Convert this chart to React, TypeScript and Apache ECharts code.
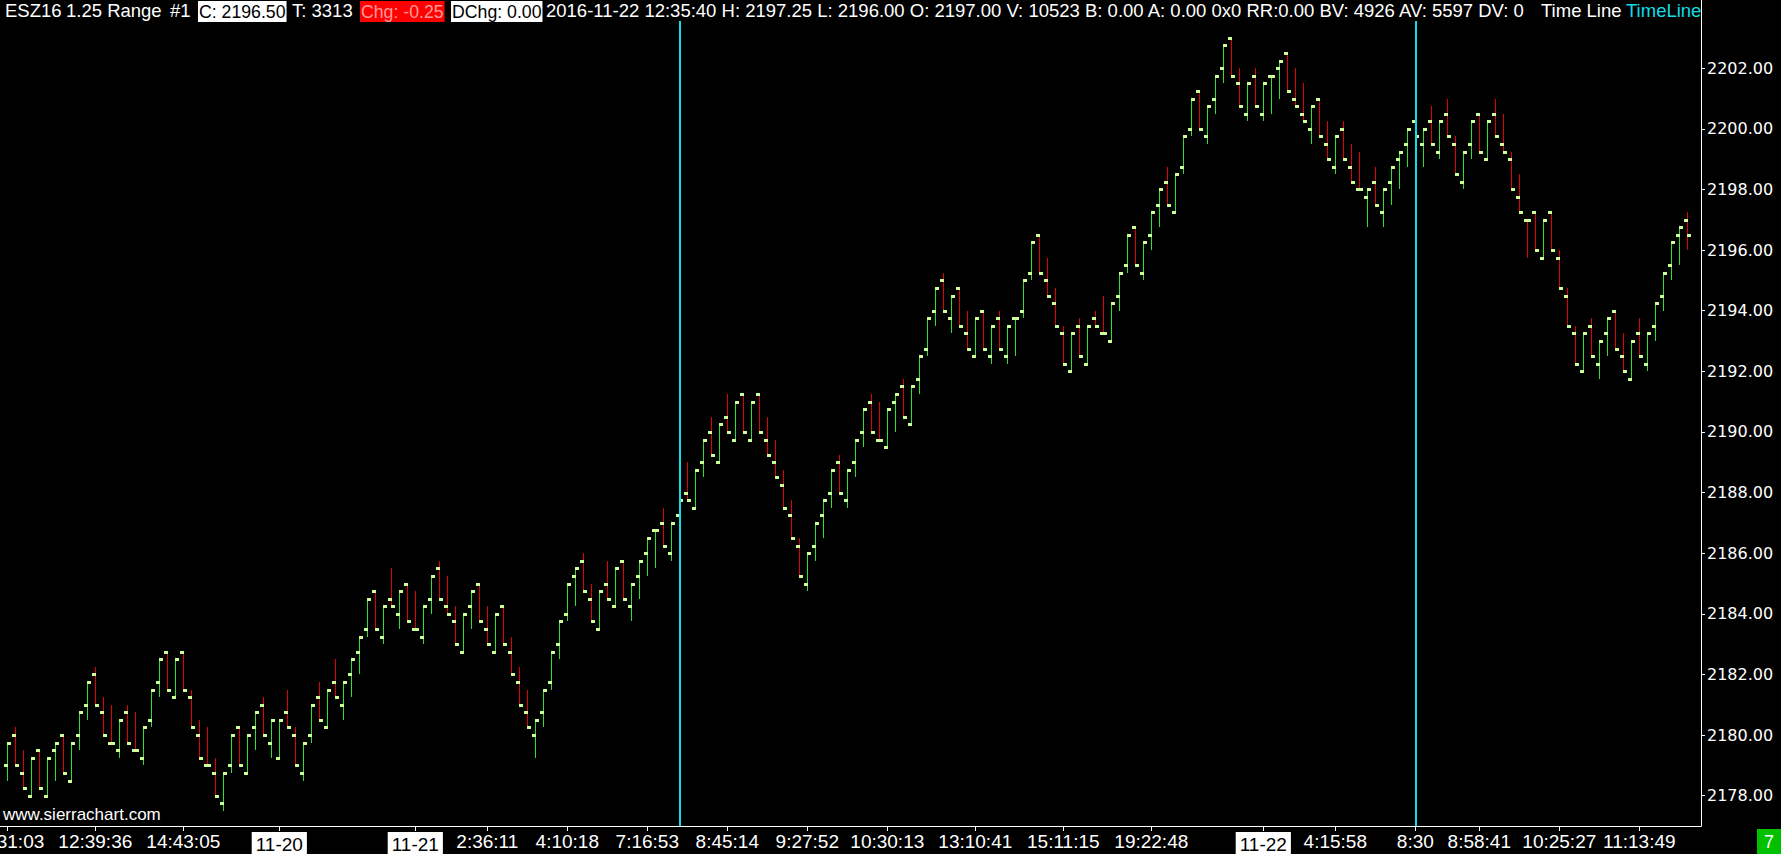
import React, { useEffect, useRef } from 'react';
import * as echarts from 'echarts';

// ---- Data: 1.25 range bars, ESZ16 ----
const opens = [
  2179.0, 2180.0, 2178.75, 2178.0, 2179.5, 2178.0, 2179.5, 2180.0, 2178.5, 2180.0,
  2181.0, 2182.0, 2180.75, 2179.75, 2179.5, 2180.75, 2179.5, 2179.25, 2180.5, 2181.75,
  2182.75, 2181.25, 2182.75, 2181.25, 2180.0, 2179.0, 2178.75, 2177.75, 2179.0, 2180.25,
  2178.75, 2180.25, 2181.0, 2179.75, 2179.25, 2180.75, 2180.0, 2178.75, 2180.0, 2181.25,
  2180.25, 2181.75, 2181.0, 2182.0, 2182.75, 2183.5, 2184.75, 2183.25, 2184.5, 2184.0,
  2185.0, 2183.5, 2183.25, 2184.5, 2185.5, 2184.25, 2183.75, 2182.75, 2184.25, 2185.0,
  2183.5, 2182.75, 2184.25, 2182.75, 2181.75, 2180.75, 2180.0, 2180.75, 2181.75, 2183.0,
  2184.0, 2185.25, 2185.75, 2184.5, 2183.5, 2185.0, 2184.25, 2185.75, 2184.25, 2185.25,
  2186.0, 2186.75, 2187.0, 2186.0, 2187.25, 2188.0, 2187.5, 2189.0, 2190.0, 2189.0,
  2190.5, 2189.75, 2191.25, 2189.75, 2191.25, 2189.75, 2189.0, 2188.25, 2187.25, 2186.25,
  2185.0, 2186.25, 2187.25, 2188.0, 2189.0, 2187.75, 2189.0, 2190.0, 2191.0, 2189.75,
  2189.5, 2191.0, 2191.5, 2190.25, 2191.75, 2192.75, 2194.0, 2195.0, 2193.75, 2194.75,
  2193.25, 2192.5, 2194.0, 2192.5, 2193.75, 2192.5, 2193.75, 2194.0, 2195.25, 2196.5,
  2195.0, 2194.25, 2193.25, 2192.0, 2193.5, 2192.25, 2193.75, 2193.25, 2193.0, 2194.5,
  2195.5, 2196.75, 2195.25, 2196.5, 2197.5, 2198.25, 2197.25, 2198.75, 2200.0, 2201.25,
  2199.75, 2201.0, 2202.0, 2203.0, 2201.5, 2200.5, 2201.75, 2200.5, 2201.75, 2202.0,
  2202.5, 2201.0, 2200.5, 2200.0, 2201.0, 2199.5, 2198.75, 2200.0, 2198.75, 2198.0,
  2197.75, 2198.25, 2197.25, 2198.25, 2199.0, 2199.5, 2200.25, 2199.5, 2200.25, 2199.25,
  2200.5, 2199.5, 2198.25, 2199.5, 2200.5, 2199.0, 2200.5, 2199.5, 2199.0, 2197.75,
  2197.0, 2197.25, 2195.75, 2197.25, 2195.75, 2194.5, 2193.25, 2192.0, 2193.5, 2192.25,
  2193.25, 2194.0, 2192.5, 2191.75, 2193.25, 2192.25, 2193.5, 2194.5, 2195.5, 2196.5,
  2197.0,
];
const highs = [
  2179.75, 2180.25, 2179.5, 2179.25, 2179.5, 2179.25, 2179.75, 2180.0, 2179.75, 2180.75,
  2181.75, 2182.25, 2181.25, 2181.0, 2180.5, 2181.0, 2180.75, 2180.25, 2181.5, 2182.5,
  2182.75, 2182.5, 2182.75, 2181.5, 2180.5, 2180.25, 2179.25, 2178.75, 2180.0, 2180.25,
  2180.0, 2180.75, 2181.25, 2180.5, 2180.5, 2181.5, 2180.25, 2179.75, 2181.0, 2181.75,
  2181.5, 2182.5, 2181.75, 2182.5, 2183.25, 2184.5, 2184.75, 2184.25, 2185.5, 2184.75,
  2185.0, 2184.75, 2184.25, 2185.25, 2185.75, 2185.25, 2184.25, 2184.0, 2184.75, 2185.0,
  2184.25, 2184.0, 2184.25, 2183.25, 2182.25, 2181.5, 2180.5, 2181.5, 2182.75, 2183.75,
  2185.0, 2185.5, 2186.0, 2185.0, 2184.75, 2185.75, 2185.5, 2185.75, 2185.0, 2185.75,
  2186.5, 2186.75, 2187.5, 2187.0, 2187.75, 2189.0, 2188.75, 2189.75, 2190.5, 2190.25,
  2191.25, 2191.0, 2191.25, 2191.0, 2191.25, 2190.5, 2189.75, 2188.75, 2187.75, 2186.5,
  2186.0, 2187.0, 2187.75, 2188.75, 2189.25, 2188.75, 2189.75, 2190.75, 2191.25, 2191.0,
  2190.75, 2191.25, 2191.75, 2191.5, 2192.5, 2193.75, 2194.75, 2195.25, 2194.5, 2194.75,
  2194.0, 2193.75, 2194.0, 2193.5, 2194.0, 2193.5, 2193.75, 2195.0, 2196.25, 2196.5,
  2195.75, 2194.75, 2193.5, 2193.25, 2193.75, 2193.5, 2194.0, 2194.5, 2194.25, 2195.25,
  2196.5, 2196.75, 2196.25, 2197.25, 2198.0, 2198.75, 2198.5, 2199.75, 2201.0, 2201.25,
  2200.75, 2201.75, 2202.75, 2203.0, 2202.0, 2201.5, 2202.0, 2201.5, 2201.75, 2202.25,
  2202.5, 2202.0, 2201.5, 2200.75, 2201.0, 2200.25, 2199.75, 2200.25, 2199.5, 2199.25,
  2198.0, 2198.75, 2198.0, 2198.75, 2199.25, 2200.0, 2200.5, 2200.0, 2200.75, 2200.25,
  2201.0, 2199.75, 2199.25, 2200.25, 2200.5, 2200.25, 2201.0, 2200.5, 2199.25, 2198.5,
  2197.0, 2197.25, 2197.0, 2197.25, 2196.0, 2194.75, 2193.5, 2193.25, 2193.75, 2193.0,
  2193.75, 2194.0, 2193.25, 2193.0, 2193.75, 2193.25, 2194.25, 2195.25, 2196.25, 2196.75,
  2197.25,
];
const lows = [
  2178.5, 2179.0, 2178.25, 2178.0, 2178.25, 2178.0, 2178.5, 2178.75, 2178.5, 2179.5,
  2180.5, 2181.0, 2180.0, 2179.75, 2179.25, 2179.75, 2179.5, 2179.0, 2180.25, 2181.25,
  2181.5, 2181.25, 2181.5, 2180.25, 2179.25, 2179.0, 2178.0, 2177.5, 2178.75, 2179.0,
  2178.75, 2179.5, 2180.0, 2179.25, 2179.25, 2180.25, 2179.0, 2178.5, 2179.75, 2180.5,
  2180.25, 2181.25, 2180.5, 2181.25, 2182.0, 2183.25, 2183.5, 2183.0, 2184.25, 2183.5,
  2183.75, 2183.5, 2183.0, 2184.0, 2184.5, 2184.0, 2183.0, 2182.75, 2183.5, 2183.75,
  2183.0, 2182.75, 2183.0, 2182.0, 2181.0, 2180.25, 2179.25, 2180.25, 2181.5, 2182.5,
  2183.75, 2184.25, 2184.75, 2183.75, 2183.5, 2184.5, 2184.25, 2184.5, 2183.75, 2184.5,
  2185.25, 2185.5, 2186.25, 2185.75, 2186.5, 2187.75, 2187.5, 2188.5, 2189.25, 2189.0,
  2190.0, 2189.75, 2190.0, 2189.75, 2190.0, 2189.25, 2188.5, 2187.5, 2186.5, 2185.25,
  2184.75, 2185.75, 2186.5, 2187.5, 2188.0, 2187.5, 2188.5, 2189.5, 2190.0, 2189.75,
  2189.5, 2190.0, 2190.5, 2190.25, 2191.25, 2192.5, 2193.5, 2194.0, 2193.25, 2193.5,
  2192.75, 2192.5, 2192.75, 2192.25, 2192.75, 2192.25, 2192.5, 2193.75, 2195.0, 2195.25,
  2194.5, 2193.5, 2192.25, 2192.0, 2192.5, 2192.25, 2193.5, 2193.25, 2193.0, 2194.0,
  2195.25, 2195.5, 2195.0, 2196.0, 2196.75, 2197.5, 2197.25, 2198.5, 2199.75, 2200.0,
  2199.5, 2200.5, 2201.5, 2201.75, 2200.75, 2200.25, 2200.75, 2200.25, 2200.5, 2201.0,
  2201.25, 2200.75, 2200.25, 2199.5, 2199.75, 2199.0, 2198.5, 2199.0, 2198.25, 2198.0,
  2196.75, 2197.5, 2196.75, 2197.5, 2198.0, 2198.75, 2199.25, 2198.75, 2199.5, 2199.0,
  2199.75, 2198.5, 2198.0, 2199.0, 2199.25, 2199.0, 2199.75, 2199.25, 2198.0, 2197.25,
  2195.75, 2196.0, 2195.75, 2196.0, 2194.75, 2193.5, 2192.25, 2192.0, 2192.5, 2191.75,
  2192.5, 2192.75, 2192.0, 2191.75, 2192.5, 2192.0, 2193.0, 2194.0, 2195.0, 2195.5,
  2196.0,
];
const closes = [
  2179.75, 2179.0, 2178.25, 2179.25, 2178.25, 2179.25, 2179.75, 2178.75, 2179.75, 2180.75,
  2181.75, 2181.0, 2180.0, 2179.75, 2180.5, 2179.75, 2179.5, 2180.25, 2181.5, 2182.5,
  2181.5, 2182.5, 2181.5, 2180.25, 2179.25, 2179.0, 2178.0, 2178.75, 2180.0, 2179.0,
  2180.0, 2180.75, 2180.0, 2180.5, 2180.5, 2180.25, 2179.0, 2179.75, 2181.0, 2180.5,
  2181.5, 2181.25, 2181.75, 2182.5, 2183.25, 2184.5, 2183.5, 2184.25, 2184.25, 2184.75,
  2183.75, 2183.5, 2184.25, 2185.25, 2184.5, 2184.0, 2183.0, 2184.0, 2184.75, 2183.75,
  2183.0, 2184.0, 2183.0, 2182.0, 2181.0, 2180.25, 2180.5, 2181.5, 2182.75, 2183.75,
  2185.0, 2185.5, 2184.75, 2183.75, 2184.75, 2184.5, 2185.5, 2184.5, 2185.0, 2185.75,
  2186.5, 2186.75, 2186.25, 2187.0, 2187.75, 2187.75, 2188.75, 2189.75, 2189.25, 2190.25,
  2190.0, 2191.0, 2190.0, 2191.0, 2190.0, 2189.25, 2188.5, 2187.5, 2186.5, 2185.25,
  2186.0, 2187.0, 2187.75, 2188.75, 2188.0, 2188.75, 2189.75, 2190.75, 2190.0, 2189.75,
  2190.75, 2191.25, 2190.5, 2191.5, 2192.5, 2193.75, 2194.75, 2194.0, 2194.5, 2193.5,
  2192.75, 2193.75, 2192.75, 2193.5, 2192.75, 2193.5, 2193.75, 2195.0, 2196.25, 2195.25,
  2194.5, 2193.5, 2192.25, 2193.25, 2192.5, 2193.5, 2193.5, 2193.25, 2194.25, 2195.25,
  2196.5, 2195.5, 2196.25, 2197.25, 2198.0, 2197.5, 2198.5, 2199.75, 2201.0, 2200.0,
  2200.75, 2201.75, 2202.75, 2201.75, 2200.75, 2201.5, 2200.75, 2201.5, 2201.75, 2202.25,
  2201.25, 2200.75, 2200.25, 2200.75, 2199.75, 2199.0, 2199.75, 2199.0, 2198.25, 2198.0,
  2198.0, 2197.5, 2198.0, 2198.75, 2199.25, 2200.0, 2199.75, 2200.0, 2199.5, 2200.25,
  2199.75, 2198.5, 2199.25, 2200.25, 2199.25, 2200.25, 2199.75, 2199.25, 2198.0, 2197.25,
  2197.0, 2196.0, 2197.0, 2196.0, 2194.75, 2193.5, 2192.25, 2193.25, 2192.5, 2193.0,
  2193.75, 2192.75, 2192.0, 2193.0, 2192.5, 2193.25, 2194.25, 2195.25, 2196.25, 2196.75,
  2196.5,
];

const timeLineBars = [84, 176];
const xTickBars = [0, 11, 22, 34, 51, 60, 70, 80, 90, 100, 110, 121, 132, 143, 157, 166, 176, 184, 194, 204];
const xTickLabels = [
  '10:31:03', '12:39:36', '14:43:05', '11-20', '11-21', '2:36:11', '4:10:18', '7:16:53', '8:45:14', '9:27:52',
  '10:30:13', '13:10:41', '15:11:15', '19:22:48', '11-22', '4:15:58', '8:30', '8:58:41', '10:25:27', '11:13:49',
];
const dateLabels = ['11-20', '11-21', '11-22'];
const yTicks = [2178, 2180, 2182, 2184, 2186, 2188, 2190, 2192, 2194, 2196, 2198, 2200, 2202];
const lastPrice = 2196.5;

const headerItems = [
  { text: 'ESZ16', x: 5, kind: 'plain' },
  { text: '1.25 Range', x: 66, kind: 'plain' },
  { text: '#1', x: 170, kind: 'plain' },
  { text: 'C: 2196.50', x: 198, kind: 'box' },
  { text: 'T: 3313', x: 292, kind: 'plain' },
  { text: 'Chg: -0.25', x: 360, kind: 'red' },
  { text: 'DChg: 0.00', x: 451, kind: 'box' },
  { text: '2016-11-22 12:35:40 H: 2197.25 L: 2196.00 O: 2197.00 V: 10523 B: 0.00 A: 0.00 0x0 RR:0.00 BV: 4926 AV: 5597 DV: 0', x: 546, kind: 'plain' },
  { text: 'Time Line', x: 1541, kind: 'plain' },
  { text: 'TimeLine:', x: 1626, kind: 'cyan' },
];

// ---- Style ----
const W = 1781;
const H = 854;
const GRID_W = 1701;
const GRID_H = 826;
const BAR_PX = 8;
const FIRST_BAR_PX = 7.3;
const X_MIN = -FIRST_BAR_PX / BAR_PX;
const X_MAX = X_MIN + GRID_W / BAR_PX;
const Y_MIN = 2177;
const Y_MAX = 2204.25;
const UP = '#2ee02e';
const DOWN = '#e00000';
const TICK = '#ccff99';
const CYAN = '#11dde6';
const UI_FONT = '"Liberation Sans", Arial, sans-serif';
const AXIS_FONT = '"DejaVu Sans", Verdana, sans-serif';

export default function App() {
  const ref = useRef<HTMLDivElement>(null);

  useEffect(() => {
    if (!ref.current) return;
    const chart = echarts.init(ref.current, null, { renderer: 'svg' });

    const rows = opens.map((o, i) => {
      const c = closes[i];
      let dir = c > o ? 1 : c < o ? -1 : 0;
      if (dir === 0) dir = i > 0 && c < closes[i - 1] ? -1 : 1;
      return [i, o, highs[i], lows[i], c, dir];
    });

    const headerGraphics: any[] = headerItems.map((h) => {
      const style: any = {
        text: h.text,
        font: `18.5px ${UI_FONT}`,
        fill: '#ffffff',
        verticalAlign: 'top',
        align: 'left',
      };
      if (h.kind === 'box') {
        style.font = `17.7px ${UI_FONT}`;
        style.fill = '#000000';
        style.backgroundColor = '#ffffff';
        style.padding = [2, 1, 1, 1];
      } else if (h.kind === 'red') {
        style.font = `17.7px ${UI_FONT}`;
        style.fill = '#ff9a9a';
        style.backgroundColor = '#ff0000';
        style.padding = [2, 1, 1, 1];
      } else if (h.kind === 'cyan') {
        style.fill = CYAN;
      }
      return { type: 'text', x: h.x, y: 1, z: 110, style, silent: true };
    });

    const option: any = {
      animation: false,
      backgroundColor: '#000000',
      grid: { left: 0, top: 0, width: GRID_W, height: GRID_H, containLabel: false, outerBoundsMode: 'none' },
      xAxis: {
        type: 'value',
        min: X_MIN,
        max: X_MAX,
        position: 'bottom',
        axisLine: { show: true, onZero: false, lineStyle: { color: '#ffffff', width: 1 } },
        axisTick: { show: true, customValues: xTickBars, length: 5, inside: false, lineStyle: { color: '#ffffff' } },
        axisLabel: {
          show: true,
          customValues: xTickBars,
          color: '#ffffff',
          fontFamily: UI_FONT,
          fontSize: 19,
          margin: 6,
          hideOverlap: false,
          formatter: (v: number) => {
            const idx = xTickBars.indexOf(Math.round(v));
            const t = idx >= 0 ? xTickLabels[idx] : '';
            return dateLabels.includes(t) ? `{d|${t}}` : t;
          },
          rich: {
            d: {
              backgroundColor: '#ffffff',
              color: '#000000',
              fontFamily: UI_FONT,
              fontSize: 19,
              padding: [3, 4, 3, 4],
            },
          },
        },
        splitLine: { show: false },
      },
      yAxis: {
        type: 'value',
        position: 'right',
        min: Y_MIN,
        max: Y_MAX,
        axisLine: { show: true, onZero: false, lineStyle: { color: '#ffffff', width: 1 } },
        axisTick: { show: true, customValues: yTicks, length: 4, inside: false, lineStyle: { color: '#ffffff' } },
        axisLabel: {
          show: true,
          customValues: yTicks,
          color: '#ffffff',
          fontFamily: AXIS_FONT,
          fontSize: 16,
          margin: 6,
          formatter: (v: number) => v.toFixed(2),
        },
        splitLine: { show: false },
      },
      series: [
        {
          type: 'custom',
          clip: true,
          data: rows,
          encode: { x: 0, y: [1, 2, 3, 4] },
          renderItem: (params: any, api: any) => {
            const i = api.value(0);
            const pO = api.coord([i, api.value(1)]);
            const pH = api.coord([i, api.value(2)]);
            const pL = api.coord([i, api.value(3)]);
            const pC = api.coord([i, api.value(4)]);
            const up = api.value(5) > 0;
            const px = Math.floor(pH[0]);
            const yH = Math.round(pH[1]);
            const yL = Math.round(pL[1]);
            return {
              type: 'group',
              children: [
                { type: 'rect', shape: { x: px, y: yH, width: 1, height: Math.max(1, yL - yH) }, style: { fill: up ? UP : DOWN } },
                { type: 'rect', shape: { x: px - 3, y: Math.round(pO[1]) - 1, width: 4, height: 3 }, style: { fill: TICK } },
                { type: 'rect', shape: { x: px, y: Math.round(pC[1]) - 1, width: 4, height: 3 }, style: { fill: TICK } },
              ],
            };
          },
          markLine: {
            silent: true,
            symbol: ['none', 'none'],
            animation: false,
            label: { show: false },
            data: [
              ...timeLineBars.map((b) => ({ xAxis: b, lineStyle: { color: CYAN, width: 2, type: 'solid' } })),
              {
                yAxis: lastPrice,
                lineStyle: { opacity: 0, width: 0 },
                label: {
                  show: true,
                  position: 'end',
                  distance: 3,
                  formatter: lastPrice.toFixed(2),
                  color: '#000000',
                  backgroundColor: '#ffffff',
                  fontFamily: AXIS_FONT,
                  fontSize: 16,
                  padding: [1, 2, 1, 2],
                },
              },
            ],
          },
          z: 2,
        },
      ],
      graphic: [
        { type: 'rect', shape: { x: 0, y: 0, width: GRID_W - 1, height: 21 }, style: { fill: '#000000' }, z: 100, silent: true },
        ...headerGraphics,
        { type: 'rect', shape: { x: GRID_W + 1, y: 0, width: W - GRID_W - 1, height: 22 }, style: { fill: '#000000' }, z: 120, silent: true },
        {
          type: 'text', x: 3, y: 806, z: 110, silent: true,
          style: { text: 'www.sierrachart.com', font: `17px ${UI_FONT}`, fill: '#ffffff', verticalAlign: 'top' },
        },
        { type: 'rect', shape: { x: 1757, y: 829, width: 24, height: 25 }, style: { fill: '#00c000' }, z: 110, silent: true },
        {
          type: 'text', x: 1769, y: 842, z: 111, silent: true,
          style: { text: '7', font: `18px ${UI_FONT}`, fill: '#ffffff', align: 'center', verticalAlign: 'middle' },
        },
      ],
    };

    chart.setOption(option);
    return () => chart.dispose();
  }, []);

  return (
    <div
      ref={ref}
      style={{ position: 'fixed', left: 0, top: 0, width: W, height: H, background: '#000000' }}
    />
  );
}
